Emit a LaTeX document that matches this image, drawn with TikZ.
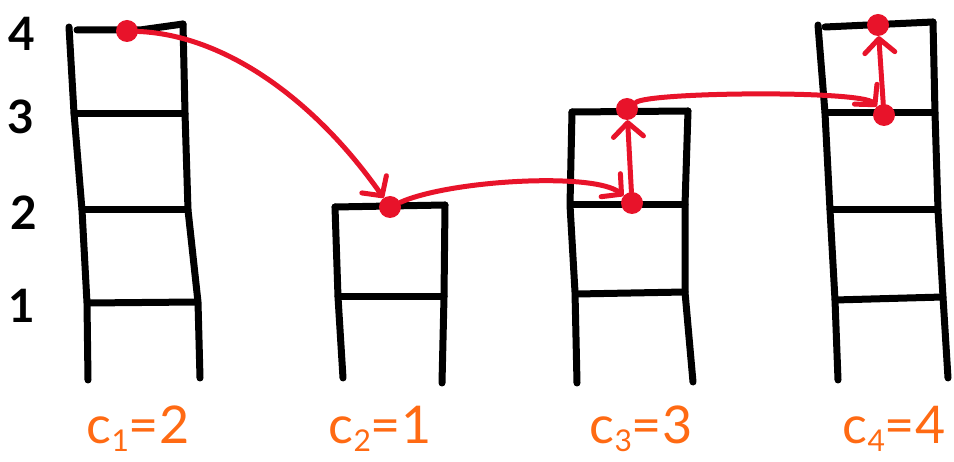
\documentclass[tikz,border=0pt]{standalone}
\usepackage{fontspec}
\setmainfont{Lato}
\usetikzlibrary{arrows.meta}
\definecolor{hred}{RGB}{232,19,42}
\definecolor{horange}{RGB}{255,106,19}
\newcommand{\lowsub}[1]{\raisebox{-9pt}{\fontsize{30}{32}\selectfont #1}}
\begin{document}
\begin{tikzpicture}[x=1pt,y=-1pt,
  stackline/.style={line width=7pt,line cap=round,line join=round,black},
  dot/.style={circle,fill=hred,inner sep=0pt,minimum size=22pt},
  link/.style={hred,line width=5pt,line cap=round,
    -{Straight Barb[length=14pt,width=30pt,line cap=round,line join=round]}},
  rownum/.style={font=\fontsize{46}{50}\selectfont\bfseries,inner sep=0pt},
  clabel/.style={font=\fontsize{52}{56}\selectfont,text=horange,inner sep=0pt,anchor=base}]
\useasboundingbox (0,0) rectangle (954,462);
% stack 1
\draw[stackline] (69,27) -- (74,113) -- (82,210) -- (87,303) -- (88,380);
\draw[stackline] (183,24) -- (185,113) -- (188,210) -- (198,302) -- (200,378);
\draw[stackline] (77,30) -- (140,30) -- (183,24);
\draw[stackline] (74,114) -- (185,114);
\draw[stackline] (82,210) -- (188,210);
\draw[stackline] (88,303) -- (196,302);
% stack 2
\draw[stackline] (335,207) -- (338,297) -- (343,378);
\draw[stackline] (445,205) -- (444,297) -- (442,383);
\draw[stackline] (335,207) -- (445,205);
\draw[stackline] (338,297) -- (444,297);
% stack 3
\draw[stackline] (572,112) -- (570,205) -- (575,292) -- (577,383);
\draw[stackline] (688,111) -- (685,205) -- (685,292) -- (693,382);
\draw[stackline] (572,112) -- (688,111);
\draw[stackline] (572,205) -- (685,205);
\draw[stackline] (577,294) -- (685,292);
% stack 4
\draw[stackline] (818,25) -- (825,113) -- (830,210) -- (835,300) -- (838,380);
\draw[stackline] (933,22) -- (935,113) -- (938,210) -- (943,297) -- (948,378);
\draw[stackline] (825,27) -- (933,22);
\draw[stackline] (825,113) -- (935,113);
\draw[stackline] (830,210) -- (938,210);
\draw[stackline] (835,300) -- (943,297);
% row numbers
\node[rownum] (n4) at (22,34) {4};
\node[rownum] (n3) at (21,117) {3};
\node[rownum] (n2) at (24,213) {2};
\node[rownum] (n1) at (22,306) {1};
% dots
\node[dot] (a) at (127,31) {};
\node[dot] (b) at (390,207) {};
\node[dot] (c) at (632,203) {};
\node[dot] (d) at (627,109) {};
\node[dot] (e) at (884,115) {};
\node[dot] (f) at (878,25) {};
% links
\draw[link] (a) .. controls (225,35) and (315,100) .. (b);
\draw[link] (b) .. controls (450,180) and (595,172) .. (c);
\draw[link] (c) -- (d);
\draw[link] (d) .. controls (650,92) and (862,90) .. (e);
\draw[link] (e) -- (f);
% labels
\node[clabel] (l1) at (138,443) {c\lowsub{1}=2};
\node[clabel] (l2) at (380,443) {c\lowsub{2}=1};
\node[clabel] (l3) at (641,443) {c\lowsub{3}=3};
\node[clabel] (l4) at (894,443) {c\lowsub{4}=4};
\end{tikzpicture}
\end{document}
